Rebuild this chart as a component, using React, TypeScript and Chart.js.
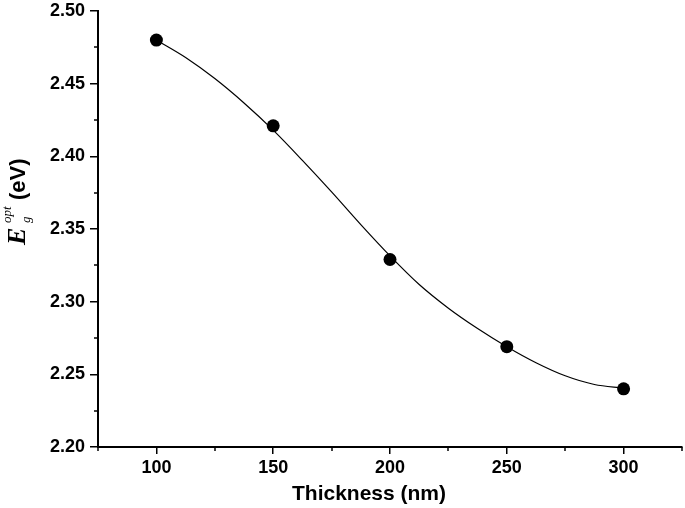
import React, { useEffect, useRef } from 'react';
import { Chart, registerables } from 'chart.js';

Chart.register(...registerables);

// Measured data points
const thickness = [100, 150, 200, 250, 300];
const bandGap = [2.48, 2.421, 2.329, 2.269, 2.24];

// Fitted curve
const fitX = [100, 112.5, 125, 137.5, 150, 162.5, 175, 187.5, 200, 212.5, 225, 237.5, 250, 262.5, 275, 287.5, 300];
const fitY = [2.48, 2.468, 2.4535, 2.4367, 2.418, 2.3972, 2.3755, 2.353, 2.3315, 2.3118, 2.2955, 2.2815, 2.269, 2.258, 2.249, 2.243, 2.2405];

// Axis ticks
const xTicks = [100, 150, 200, 250, 300];
const xMinorTicks = [75, 125, 175, 225, 275, 325];
const yTicks = [2.2, 2.25, 2.3, 2.35, 2.4, 2.45, 2.5];
const yMinorTicks = [2.225, 2.275, 2.325, 2.375, 2.425, 2.475];

const xTitle = 'Thickness (nm)';
const SANS = '"Liberation Sans", Arial, sans-serif';
const SERIF = '"Liberation Serif", "Times New Roman", serif';

const overlayPlugin = {
  id: 'overlay',
  afterDraw(chart: any) {
    const ctx = chart.ctx as CanvasRenderingContext2D;
    const xs = chart.scales.x;
    const ys = chart.scales.y;
    const area = chart.chartArea;
    ctx.save();
    ctx.strokeStyle = '#000';
    ctx.lineWidth = 1.5;
    // minor ticks x
    xMinorTicks.forEach((v) => {
      const px = Math.round(xs.getPixelForValue(v));
      ctx.beginPath();
      ctx.moveTo(px, area.bottom);
      ctx.lineTo(px, area.bottom + 4);
      ctx.stroke();
    });
    // minor ticks y
    yMinorTicks.forEach((v) => {
      const py = Math.round(ys.getPixelForValue(v));
      ctx.beginPath();
      ctx.moveTo(area.left, py);
      ctx.lineTo(area.left - 4, py);
      ctx.stroke();
    });
    // x title
    ctx.fillStyle = '#000';
    ctx.font = `bold 21px ${SANS}`;
    ctx.textAlign = 'center';
    ctx.textBaseline = 'alphabetic';
    ctx.fillText(xTitle, 369, 500);
    // y title (rotated)
    ctx.translate(25, 245);
    ctx.rotate(-Math.PI / 2);
    ctx.textAlign = 'left';
    ctx.font = `italic bold 26px ${SERIF}`;
    ctx.fillText('E', 0, 0);
    ctx.font = `italic 13px ${SERIF}`;
    ctx.fillText('opt', 22, -14);
    ctx.fillText('g', 22, 5);
    ctx.font = `bold 22px ${SANS}`;
    ctx.fillText('(eV)', 45, 0);
    ctx.restore();
  },
};

export default function App() {
  const ref = useRef<HTMLCanvasElement | null>(null);

  useEffect(() => {
    if (!ref.current) return;
    const chart = new Chart(ref.current, {
      type: 'scatter',
      data: {
        datasets: [
          {
            label: 'points',
            data: thickness.map((x, i) => ({ x, y: bandGap[i] })),
            pointRadius: 6.5,
            pointBackgroundColor: '#000',
            pointBorderWidth: 0,
            showLine: false,
            order: 0,
          },
          {
            label: 'fit',
            data: fitX.map((x, i) => ({ x, y: fitY[i] })),
            showLine: true,
            borderColor: '#000',
            borderWidth: 1.2,
            pointRadius: 0,
            cubicInterpolationMode: 'monotone',
            order: 1,
          },
        ],
      },
      options: {
        animation: false,
        responsive: false,
        layout: { autoPadding: false, padding: { left: 0, right: 3, top: 11, bottom: 0 } },
        plugins: { legend: { display: false }, tooltip: { enabled: false } },
        scales: {
          x: {
            type: 'linear',
            min: 75,
            max: 325,
            afterBuildTicks: (s: any) => {
              s.ticks = xTicks.map((v) => ({ value: v }));
            },
            afterFit: (s: any) => {
              s.height = 61;
              s.paddingLeft = 0;
              s.paddingRight = 0;
            },
            ticks: {
              color: '#000',
              font: { family: SANS, size: 18, weight: 'bold' },
              padding: 3,
              maxRotation: 0,
              callback: (v: any) => String(v),
            },
            grid: { drawOnChartArea: false, drawTicks: true, tickLength: 7, color: '#000', lineWidth: 1.5 },
            border: { color: '#000', width: 2 },
          },
          y: {
            type: 'linear',
            min: 2.2,
            max: 2.5,
            afterBuildTicks: (s: any) => {
              s.ticks = yTicks.map((v) => ({ value: v }));
            },
            afterFit: (s: any) => {
              s.width = 98;
              s.paddingTop = 0;
              s.paddingBottom = 0;
            },
            ticks: {
              color: '#000',
              font: { family: SANS, size: 18, weight: 'bold' },
              padding: 5,
              callback: (v: any) => Number(v).toFixed(2),
            },
            grid: { drawOnChartArea: false, drawTicks: true, tickLength: 8, color: '#000', lineWidth: 1.5 },
            border: { color: '#000', width: 2 },
          },
        },
      },
      plugins: [overlayPlugin],
    });
    return () => chart.destroy();
  }, []);

  return (
    <div style={{ position: 'absolute', left: 0, top: 0, width: 685, height: 508, background: '#fff' }}>
      <canvas ref={ref} width={685} height={508} style={{ width: 685, height: 508 }} />
    </div>
  );
}
